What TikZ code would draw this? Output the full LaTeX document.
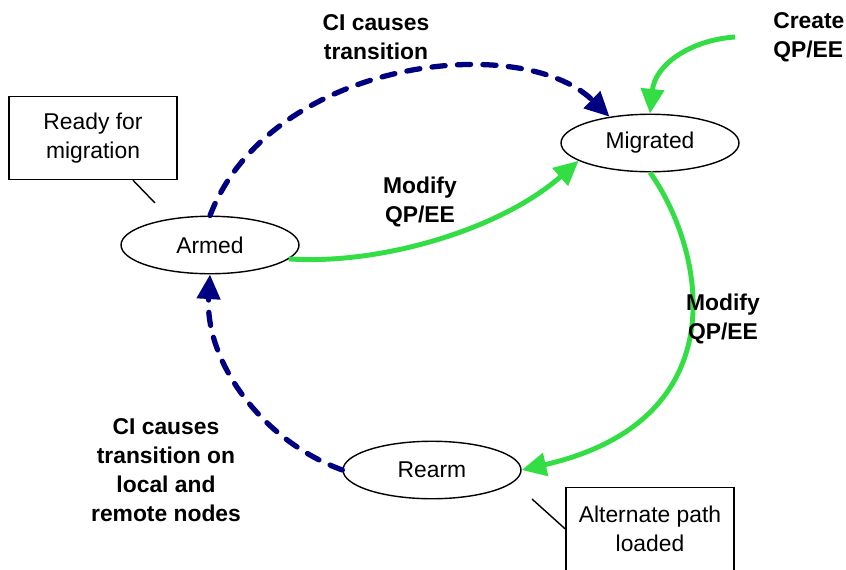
\documentclass[tikz,border=0pt]{standalone}
\usepackage{fontspec}
\setmainfont{Liberation Sans}
\usetikzlibrary{positioning,shapes,arrows.meta,calc}
\definecolor{ciblue}{RGB}{0,0,128}
\definecolor{qpgreen}{RGB}{51,221,68}

\begin{document}
\begin{tikzpicture}[x=0.02cm, y=-0.02cm,
        state/.style={ellipse, draw, line width=0.8pt, minimum width=3.56cm, minimum height=1.15cm, inner sep=0pt, font=\fontsize{13pt}{16.4pt}\selectfont},
        note/.style={rectangle, draw, line width=0.8pt, minimum width=3.36cm, minimum height=1.66cm, align=center, font=\fontsize{13pt}{16.4pt}\selectfont},
        lbl/.style={align=center, font=\fontsize{13pt}{16.4pt}\selectfont\bfseries},
        ciarrow/.style={draw=ciblue, line width=3pt, dash pattern=on 7.5pt off 7pt, line cap=round, -{Triangle[length=14pt,width=13pt]}},
        qparrow/.style={draw=qpgreen, line width=2.8pt, -{Triangle[length=14pt,width=13pt]}}
    ]
        \useasboundingbox (0,0) rectangle (846,569);

        % states
        \node[state] (armed) at (210,245) {Armed};
        \node[state] (migr) at (650,143) {Migrated};
        \node[state] (rearm) at (432,470) {Rearm};

        % notes
        \node[note] (ready) at (93,138) {Ready for\\migration};
        \node[note] (alt) at (650,529) {Alternate path\\loaded};
        \coordinate (readytip) at (155,203);
        \coordinate (alttip) at (532,499);
        \draw[line width=0.8pt] ([xshift=0.8cm]ready.south) -- (readytip);
        \draw[line width=0.8pt] (alttip) -- (alt.west);

        % CI transitions
        \draw[ciarrow] (armed.north) .. controls (270,60) and (520,30) .. (migr.147);
        \node[lbl] (ci1) at (376,37) {CI causes\\transition};
        \draw[ciarrow] (rearm.west) .. controls (260,440) and (205,360) .. (armed.south);
        \node[lbl] (ci2) at (166,470) {CI causes\\transition on\\local and\\remote nodes};

        % QP/EE changes
        \coordinate (create) at (735,37);
        \draw[qparrow] (create) .. controls (690,40) and (655,65) .. (migr.north);
        \node[lbl, align=left, anchor=west, inner sep=0pt] (qp1) at (773,37) {Create\\QP/EE};
        \draw[qparrow] (armed.350) .. controls (380,265) and (500,230) .. (migr.194);
        \node[lbl] (qp2) at (420,202) {Modify\\QP/EE};
        \draw[qparrow] (migr.south) .. controls (705,250) and (740,420) .. (rearm.east);
        \node[lbl] (qp3) at (723,319) {Modify\\QP/EE};
    \end{tikzpicture}
\end{document}
